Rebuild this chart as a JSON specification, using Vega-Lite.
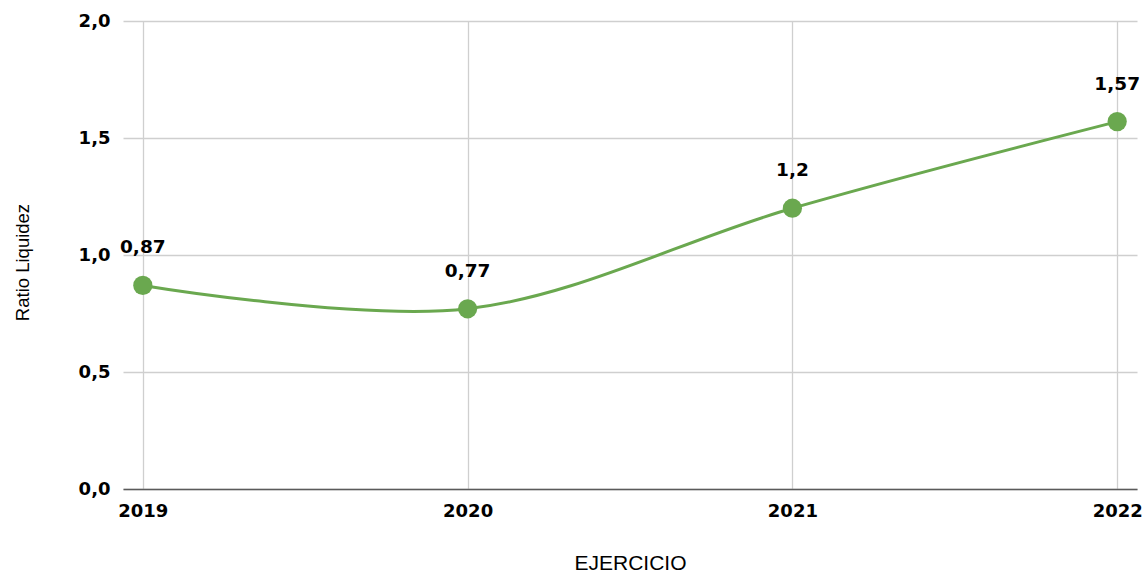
{
  "$schema": "https://vega.github.io/schema/vega-lite/v6.json",
  "autosize": {"type": "none"},
  "width": 1014,
  "height": 468,
  "padding": {"left": 123, "top": 21, "right": 7, "bottom": 85},
  "background": "white",
  "data": {
    "values": [
      {"year": "2019", "ratio": 0.87, "label": "0,87"},
      {"year": "2020", "ratio": 0.77, "label": "0,77"},
      {"year": "2021", "ratio": 1.2, "label": "1,2"},
      {"year": "2022", "ratio": 1.57, "label": "1,57"}
    ]
  },
  "config": {
    "view": {"stroke": null},
    "axis": {
      "gridColor": "#cfcfcf",
      "gridWidth": 1.3,
      "ticks": false,
      "labelFont": "DejaVu Sans",
      "labelFontWeight": "bold",
      "labelFontSize": 18,
      "labelColor": "#000000",
      "titleFont": "Liberation Sans",
      "titleFontWeight": "normal",
      "titleFontSize": 19,
      "titleColor": "#000000"
    }
  },
  "encoding": {
    "x": {
      "field": "year",
      "type": "ordinal",
      "scale": {"type": "point", "padding": 0.061},
      "axis": {
        "title": "EJERCICIO",
        "labelAngle": 0,
        "labelPadding": 13,
        "domain": true,
        "domainColor": "#5a5a5a",
        "domainWidth": 1.5,
        "grid": true,
        "titleX": 507,
        "titleY": 74,
        "titleBaseline": "middle",
        "titleFontSize": 21
      }
    },
    "y": {
      "field": "ratio",
      "type": "quantitative",
      "scale": {"domain": [0, 2]},
      "axis": {
        "title": "Ratio Liquidez",
        "values": [0, 0.5, 1, 1.5, 2],
        "labelExpr": "replace(format(datum.value, '.1f'), '.', ',')",
        "labelPadding": 13,
        "domain": false,
        "grid": true,
        "titleX": -101,
        "titleY": 241,
        "titleAngle": -90,
        "titleAlign": "center",
        "titleBaseline": "middle",
        "titleFontSize": 18.5
      }
    }
  },
  "layer": [
    {
      "mark": {"type": "line", "interpolate": "catmull-rom", "color": "#6aa84f", "strokeWidth": 3}
    },
    {
      "mark": {"type": "point", "filled": true, "color": "#6aa84f", "opacity": 1, "size": 370}
    },
    {
      "mark": {"type": "text", "dy": -38, "font": "DejaVu Sans", "fontWeight": "bold", "fontSize": 18.5, "color": "#000000", "baseline": "middle"},
      "encoding": {"text": {"field": "label"}}
    }
  ]
}
